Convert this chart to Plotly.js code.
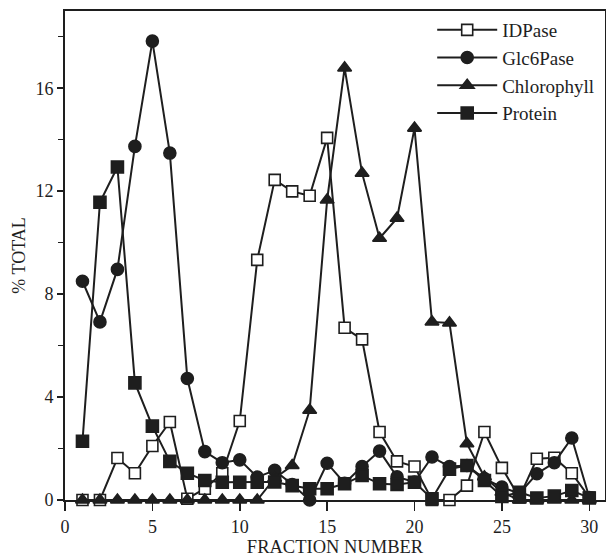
<!DOCTYPE html>
<html>
<head>
<meta charset="utf-8">
<script src="https://cdn.plot.ly/plotly-3.0.1.min.js"></script>
<style>html,body{margin:0;padding:0;background:#fff;}#chart{width:606px;height:557px;}</style>
</head>
<body>
<div id="chart"></div>
<script>
const fractions = [1,2,3,4,5,6,7,8,9,10,11,12,13,14,15,16,17,18,19,20,21,22,23,24,25,26,27,28,29,30];
const idpase = [0,0,1.63,1.04,2.1,3.03,0.05,0.44,1.04,3.07,9.33,12.44,11.99,11.82,14.07,6.69,6.24,2.64,1.5,1.3,0,0,0.56,2.64,1.25,0.1,1.6,1.64,1.04,0.1];
const glc6pase = [8.5,6.92,8.96,13.74,17.83,13.48,4.72,1.88,1.45,1.56,0.89,1.15,0.6,0,1.43,0.65,1.3,1.9,0.9,0.7,1.67,1.3,1.34,0.83,0.5,0.25,1.02,1.45,2.41,0.1];
const chlorophyll = [0,0,0,0,0,0,0,0,0,0,0,0.85,1.34,3.49,11.66,16.79,12.7,10.17,10.95,14.45,6.92,6.88,2.19,0.9,0.3,0,0,0,0,0];
const protein = [2.28,11.57,12.94,4.55,2.87,1.5,1.04,0.76,0.69,0.69,0.69,0.7,0.56,0.44,0.44,0.63,0.95,0.63,0.6,0.69,0.05,1.2,1.34,0.76,0.14,0.3,0.08,0.15,0.37,0.08];
const xTicks = [0,5,10,15,20,25,30];
const yTicks = [0,4,8,12,16];

const ink = '#1e1e1e';
const serif = 'Liberation Serif, Times New Roman, serif';

function tr(name, y, symbol, size, fill) {
  return {
    x: fractions, y: y, name: name, type: 'scatter', mode: 'lines+markers',
    legendgroup: name, cliponaxis: false,
    line: {color: ink, width: 2},
    marker: {symbol: symbol, size: size, color: fill, line: {color: ink, width: 1.6}}
  };
}

const data = [
  tr('IDPase', idpase, 'square', 11, '#ffffff'),
  tr('Glc6Pase', glc6pase, 'circle', 12, ink),
  tr('Chlorophyll', chlorophyll, 'triangle-up', 12, ink),
  tr('Protein', protein, 'square', 12, ink)
];

const layout = {
  width: 606, height: 557,
  margin: {l: 65, r: 1, t: 11, b: 57},
  paper_bgcolor: '#fff', plot_bgcolor: '#fff',
  font: {family: serif, color: ink, size: 18},
  showlegend: true,
  legend: {
    x: 0.68, y: 1.0, xanchor: 'left', yanchor: 'top',
    bgcolor: 'rgba(0,0,0,0)', borderwidth: 0,
    font: {family: serif, size: 19, color: ink},
    itemwidth: 60, tracegroupgap: 4, traceorder: 'normal'
  },
  xaxis: {
    range: [0, 30.9], tickvals: xTicks, ticktext: xTicks.map(String),
    ticks: 'outside', ticklen: 9, tickwidth: 1.5, tickcolor: ink,
    showline: true, linecolor: ink, linewidth: 2, mirror: true,
    showgrid: false, zeroline: false,
    tickfont: {family: serif, size: 18, color: ink},
    title: {text: 'FRACTION NUMBER', font: {family: serif, size: 18.5, color: ink}, standoff: 2}
  },
  yaxis: {
    range: [0, 19], tickvals: yTicks, ticktext: yTicks.map(String),
    ticks: 'outside', ticklen: 6, tickwidth: 1.5, tickcolor: ink,
    minor: {tickvals: [2,6,10,14,18], ticks: 'outside', ticklen: 5, tickwidth: 1.5, tickcolor: ink, showgrid: false},
    showline: true, linecolor: ink, linewidth: 2, mirror: true,
    showgrid: false, zeroline: false,
    tickfont: {family: serif, size: 18, color: ink},
    title: {text: '% TOTAL', font: {family: serif, size: 18, color: ink}, standoff: 5}
  }
};

Plotly.newPlot('chart', data, layout, {displayModeBar: false, staticPlot: true});
</script>
</body>
</html>
